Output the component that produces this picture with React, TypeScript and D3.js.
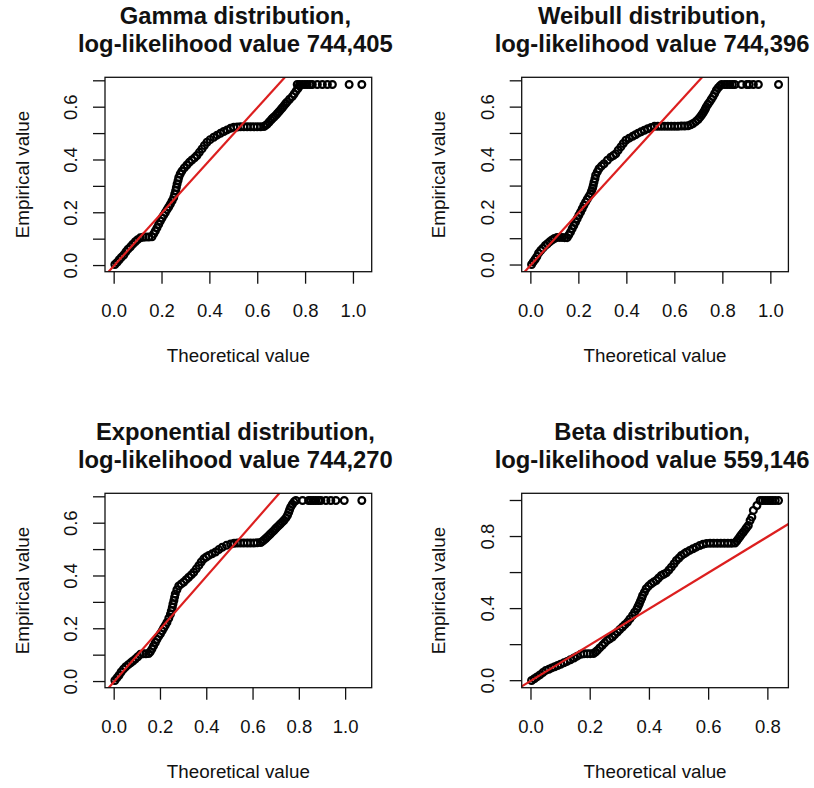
import { scaleLinear, extent } from 'd3'

// Q-Q points: [theoretical quantile, empirical value]
const GAMMA_QQ: [number, number][] = [
  [0.003, 0.004], [0.012, 0.012], [0.021, 0.022], [0.030, 0.031], [0.040, 0.040], [0.049, 0.052], [0.058, 0.062], [0.068, 0.071], [0.078, 0.081], [0.088, 0.090], [0.098, 0.098], [0.109, 0.105],
  [0.120, 0.107], [0.132, 0.108], [0.145, 0.108], [0.158, 0.109],
  [0.165, 0.120], [0.172, 0.131], [0.179, 0.143], [0.186, 0.156], [0.193, 0.169], [0.200, 0.180], [0.207, 0.191], [0.214, 0.201], [0.221, 0.212], [0.228, 0.222], [0.235, 0.233], [0.242, 0.245], [0.249, 0.258],
  [0.253, 0.271], [0.257, 0.284], [0.260, 0.296], [0.263, 0.309], [0.267, 0.322], [0.270, 0.334], [0.276, 0.347], [0.283, 0.358],
  [0.293, 0.370], [0.304, 0.381], [0.314, 0.391], [0.325, 0.400], [0.336, 0.408], [0.346, 0.417], [0.356, 0.429], [0.367, 0.442], [0.377, 0.455], [0.388, 0.467], [0.401, 0.477], [0.416, 0.486], [0.430, 0.494], [0.444, 0.501], [0.458, 0.508], [0.472, 0.514], [0.486, 0.520], [0.500, 0.524],
  [0.514, 0.525], [0.528, 0.526], [0.542, 0.526], [0.556, 0.526], [0.570, 0.526], [0.584, 0.526], [0.598, 0.526], [0.612, 0.526], [0.626, 0.527],
  [0.633, 0.531], [0.640, 0.536], [0.648, 0.544], [0.655, 0.551], [0.661, 0.557], [0.668, 0.563], [0.675, 0.569], [0.682, 0.576], [0.689, 0.583], [0.696, 0.591], [0.703, 0.598], [0.710, 0.606], [0.717, 0.614], [0.723, 0.620], [0.733, 0.630], [0.744, 0.640], [0.752, 0.650], [0.760, 0.661], [0.768, 0.671], [0.775, 0.680],
  [0.765, 0.686], [0.775, 0.686], [0.786, 0.686], [0.797, 0.686], [0.807, 0.686], [0.818, 0.686], [0.828, 0.686], [0.849, 0.686], [0.870, 0.686], [0.891, 0.686], [0.912, 0.686], [0.982, 0.686], [1.035, 0.686],
]

const WEIBULL_QQ: [number, number][] = [
  [0.003, 0.002], [0.010, 0.012], [0.018, 0.022], [0.025, 0.032], [0.032, 0.045], [0.041, 0.055], [0.050, 0.064], [0.060, 0.074], [0.069, 0.081], [0.078, 0.088], [0.088, 0.095], [0.098, 0.101], [0.109, 0.105],
  [0.120, 0.105], [0.130, 0.105], [0.141, 0.104], [0.151, 0.104],
  [0.158, 0.114], [0.165, 0.125], [0.172, 0.138], [0.179, 0.150], [0.186, 0.163], [0.193, 0.176], [0.200, 0.189], [0.207, 0.201], [0.214, 0.214], [0.221, 0.227], [0.228, 0.239], [0.235, 0.250], [0.242, 0.261], [0.249, 0.271],
  [0.253, 0.282], [0.257, 0.292], [0.260, 0.302], [0.263, 0.315], [0.267, 0.328], [0.270, 0.341], [0.277, 0.354], [0.284, 0.366],
  [0.294, 0.376], [0.305, 0.385], [0.319, 0.398], [0.333, 0.410], [0.344, 0.416], [0.354, 0.423], [0.364, 0.436], [0.375, 0.449], [0.385, 0.462], [0.396, 0.474], [0.410, 0.482], [0.424, 0.489], [0.436, 0.495], [0.447, 0.501], [0.459, 0.506], [0.473, 0.512], [0.487, 0.518], [0.501, 0.523], [0.515, 0.527],
  [0.529, 0.527], [0.543, 0.527], [0.557, 0.527], [0.571, 0.527], [0.585, 0.527], [0.599, 0.527], [0.613, 0.527], [0.627, 0.528], [0.641, 0.528], [0.655, 0.529],
  [0.666, 0.533], [0.676, 0.538], [0.687, 0.545], [0.697, 0.553], [0.704, 0.561], [0.711, 0.569], [0.717, 0.577], [0.722, 0.585], [0.727, 0.593], [0.731, 0.601], [0.738, 0.611], [0.745, 0.620], [0.752, 0.630], [0.759, 0.640], [0.766, 0.652], [0.773, 0.664], [0.780, 0.673], [0.787, 0.680],
  [0.795, 0.686], [0.808, 0.686], [0.818, 0.686], [0.829, 0.686], [0.840, 0.686], [0.850, 0.686], [0.878, 0.686], [0.900, 0.686], [0.910, 0.686], [0.927, 0.686], [0.948, 0.686], [1.032, 0.686],
]

const EXPONENTIAL_QQ: [number, number][] = [
  [0.003, 0.004], [0.012, 0.014], [0.021, 0.024], [0.030, 0.036], [0.040, 0.047], [0.050, 0.056], [0.061, 0.064], [0.071, 0.071], [0.081, 0.078], [0.091, 0.085], [0.102, 0.094], [0.113, 0.103],
  [0.125, 0.105], [0.137, 0.105], [0.149, 0.106],
  [0.156, 0.113], [0.163, 0.123], [0.170, 0.135], [0.178, 0.148], [0.185, 0.160], [0.192, 0.171], [0.200, 0.181], [0.207, 0.192], [0.214, 0.203], [0.221, 0.213], [0.228, 0.224], [0.236, 0.240], [0.243, 0.255],
  [0.247, 0.268], [0.251, 0.281], [0.254, 0.294], [0.258, 0.307], [0.261, 0.320], [0.264, 0.332], [0.271, 0.348], [0.279, 0.362],
  [0.290, 0.370], [0.301, 0.377], [0.311, 0.386], [0.322, 0.395], [0.333, 0.404], [0.344, 0.414], [0.355, 0.427], [0.366, 0.440], [0.376, 0.453], [0.387, 0.465], [0.398, 0.472], [0.409, 0.478], [0.423, 0.484], [0.438, 0.491], [0.452, 0.500], [0.467, 0.509], [0.485, 0.516], [0.503, 0.521], [0.518, 0.524], [0.532, 0.525],
  [0.546, 0.525], [0.560, 0.525], [0.575, 0.525], [0.589, 0.525], [0.604, 0.525], [0.618, 0.526], [0.633, 0.527],
  [0.640, 0.531], [0.647, 0.536], [0.655, 0.542], [0.662, 0.548], [0.669, 0.554], [0.676, 0.560], [0.684, 0.567], [0.691, 0.573], [0.698, 0.580], [0.705, 0.586], [0.712, 0.592], [0.719, 0.598], [0.727, 0.605], [0.734, 0.611], [0.742, 0.620], [0.749, 0.630], [0.754, 0.641], [0.758, 0.651], [0.763, 0.662], [0.770, 0.672], [0.777, 0.681],
  [0.785, 0.686], [0.814, 0.686], [0.840, 0.686], [0.850, 0.686], [0.860, 0.686], [0.871, 0.686], [0.882, 0.686], [0.893, 0.686], [0.915, 0.686], [0.936, 0.686], [0.958, 0.686], [0.994, 0.686], [1.070, 0.686],
]

const BETA_QQ: [number, number][] = [
  [0.002, 0.001], [0.011, 0.011], [0.020, 0.021], [0.030, 0.032], [0.040, 0.045], [0.050, 0.057], [0.060, 0.063], [0.070, 0.071], [0.080, 0.077], [0.090, 0.084], [0.100, 0.091], [0.111, 0.099], [0.122, 0.107], [0.133, 0.116], [0.145, 0.126], [0.156, 0.136], [0.168, 0.146],
  [0.179, 0.149], [0.190, 0.150], [0.200, 0.150], [0.211, 0.151],
  [0.218, 0.159], [0.224, 0.168], [0.232, 0.182], [0.241, 0.196], [0.249, 0.210], [0.258, 0.224], [0.266, 0.233], [0.275, 0.242], [0.283, 0.256], [0.292, 0.270], [0.300, 0.284], [0.309, 0.298], [0.317, 0.311], [0.326, 0.325], [0.334, 0.343], [0.343, 0.362], [0.350, 0.380], [0.358, 0.399], [0.362, 0.413], [0.366, 0.427], [0.370, 0.443], [0.374, 0.458], [0.377, 0.473], [0.383, 0.491], [0.389, 0.510],
  [0.397, 0.525], [0.406, 0.538], [0.414, 0.547], [0.423, 0.556], [0.431, 0.570], [0.440, 0.584], [0.448, 0.591], [0.457, 0.598], [0.466, 0.614], [0.474, 0.630], [0.483, 0.649], [0.491, 0.667], [0.500, 0.681], [0.508, 0.695], [0.517, 0.704], [0.525, 0.713], [0.536, 0.723], [0.547, 0.732], [0.558, 0.741], [0.570, 0.750], [0.581, 0.757], [0.593, 0.762],
  [0.605, 0.763], [0.617, 0.763], [0.629, 0.763], [0.641, 0.763], [0.653, 0.763], [0.665, 0.763], [0.677, 0.763], [0.689, 0.764],
  [0.695, 0.775], [0.700, 0.787], [0.706, 0.800], [0.711, 0.812], [0.717, 0.824], [0.723, 0.837], [0.728, 0.849], [0.734, 0.861], [0.740, 0.889], [0.746, 0.908], [0.751, 0.945], [0.763, 0.972], [0.774, 1.000],
  [0.782, 1.0], [0.791, 1.0], [0.800, 1.0], [0.808, 1.0], [0.816, 1.0], [0.825, 1.0], [0.836, 1.0],
]

const TITLES = ['Gamma distribution,', 'Weibull distribution,', 'Exponential distribution,', 'Beta distribution,']
const LOG_LIKELIHOOD = ['744,405', '744,396', '744,270', '559,146']

const X_TICKS = [0, 0.2, 0.4, 0.6, 0.8, 1.0]
const X_TICKS_BETA = [0, 0.2, 0.4, 0.6, 0.8]
const Y_TICKS = [0, 0.1, 0.2, 0.3, 0.4, 0.5, 0.6, 0.7]
const Y_LABELS = [0, 0.2, 0.4, 0.6]
const Y_TICKS_BETA = [0, 0.2, 0.4, 0.6, 0.8, 1.0]
const Y_LABELS_BETA = [0, 0.4, 0.8]

const FONT = '"Liberation Sans", Arial, sans-serif'
const INK = '#111'

function QQPanel({ id, left, top, data, title, loglik, xTicks, yTicks, yLabels }: any) {
  const w = 266.7
  const h = 194.4
  const tick = 12
  const [x0, x1] = extent(data, (d: any) => d[0]) as [number, number]
  const [y0, y1] = extent(data, (d: any) => d[1]) as [number, number]
  const px = (x1 - x0) * 0.04
  const py = (y1 - y0) * 0.04
  const xScale = scaleLinear().domain([x0 - px, x1 + px]).range([0, w])
  const yScale = scaleLinear().domain([y0 - py, y1 + py]).range([h, 0])
  const [d0, d1] = xScale.domain()

  return (
    <g transform={`translate(${left}, ${top})`} fontFamily={FONT} fill={INK}>
      <defs>
        <clipPath id={`clip-${id}`}>
          <rect width={w} height={h} />
        </clipPath>
      </defs>

      {/* Title */}
      <text x={w / 2 - 3} y={-53.3} textAnchor='middle' fontSize={23.8} fontWeight='bold'>
        {title}
      </text>
      <text x={w / 2 - 3} y={-25.6} textAnchor='middle' fontSize={23.8} fontWeight='bold'>
        {`log-likelihood value ${loglik}`}
      </text>

      {/* Points */}
      {data.map((d: [number, number], i: number) => (
        <circle
          key={i}
          cx={xScale(d[0])}
          cy={yScale(d[1])}
          r={3.4}
          fill='none'
          stroke='#000'
          strokeWidth={2.2}
        />
      ))}

      {/* y = x reference line */}
      <line
        x1={xScale(d0)}
        y1={yScale(d0)}
        x2={xScale(d1)}
        y2={yScale(d1)}
        stroke='#dc1f1f'
        strokeWidth={2.2}
        clipPath={`url(#clip-${id})`}
      />

      {/* Box */}
      <rect width={w} height={h} fill='none' stroke={INK} strokeWidth={1.3} />

      {/* X axis */}
      {xTicks.map((t: number, i: number) => (
        <g key={i} transform={`translate(${xScale(t)}, ${h})`}>
          <line y2={tick} stroke={INK} strokeWidth={1.3} />
          <text y={45} textAnchor='middle' fontSize={18.5}>
            {t.toFixed(1)}
          </text>
        </g>
      ))}
      <text x={w / 2} y={h + 90.5} textAnchor='middle' fontSize={18.8}>
        Theoretical value
      </text>

      {/* Y axis */}
      {yTicks.map((t: number, i: number) => (
        <line key={i} x2={-tick} y1={yScale(t)} y2={yScale(t)} stroke={INK} strokeWidth={1.3} />
      ))}
      {yLabels.map((t: number, i: number) => (
        <text
          key={i}
          transform={`translate(-28, ${yScale(t)}) rotate(-90)`}
          textAnchor='middle'
          fontSize={18.5}
        >
          {t.toFixed(1)}
        </text>
      ))}
      <text
        transform={`translate(-76.5, ${h / 2}) rotate(-90)`}
        textAnchor='middle'
        fontSize={18.8}
      >
        Empirical value
      </text>
    </g>
  )
}

export default function App(): JSX.Element {
  const cols = [105, 521.7]
  const rows = [77.3, 493.3]
  const series = [GAMMA_QQ, WEIBULL_QQ, EXPONENTIAL_QQ, BETA_QQ]

  return (
    <svg width={814} height={788} style={{ position: 'absolute', left: 0, top: 0, background: '#fff' }}>
      {series.map((data, i) => (
        <QQPanel
          key={i}
          id={i}
          left={cols[i % 2]}
          top={rows[Math.floor(i / 2)]}
          data={data}
          title={TITLES[i]}
          loglik={LOG_LIKELIHOOD[i]}
          xTicks={i === 3 ? X_TICKS_BETA : X_TICKS}
          yTicks={i === 3 ? Y_TICKS_BETA : Y_TICKS}
          yLabels={i === 3 ? Y_LABELS_BETA : Y_LABELS}
        />
      ))}
    </svg>
  )
}
